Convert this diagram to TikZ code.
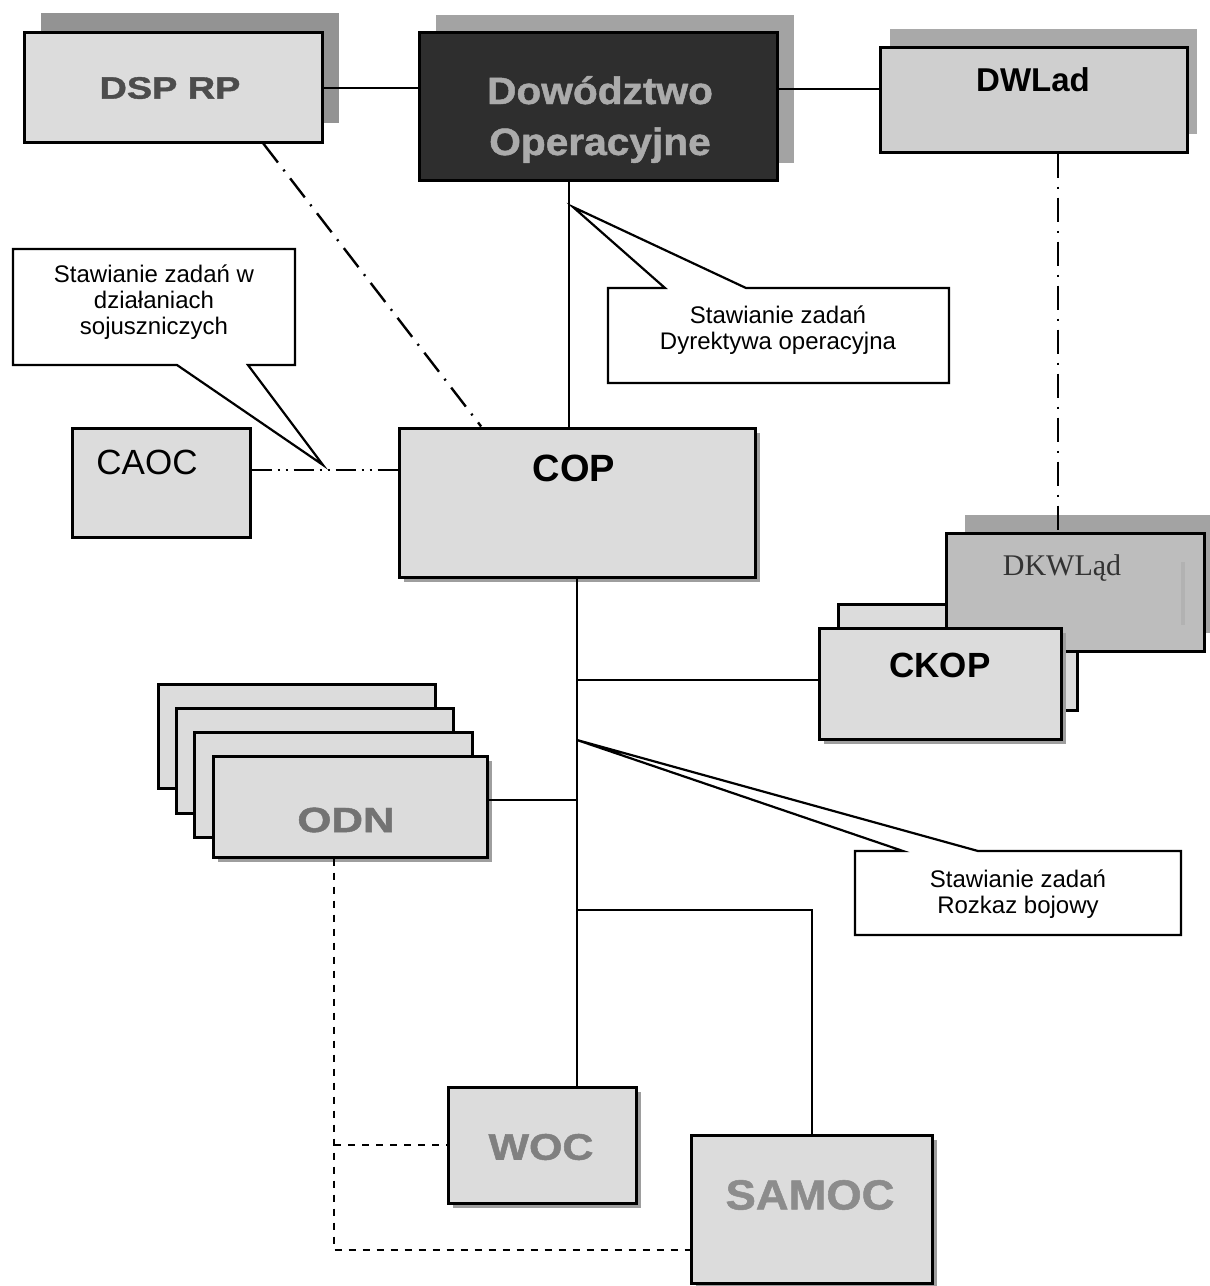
\documentclass[tikz,border=0pt]{standalone}
\usepackage{fontspec}
\usepackage{graphicx}
\setmainfont{Liberation Sans}
\newfontfamily\tnr{Liberation Serif}
\newfontfamily\blackfont[FakeBold=1.2]{Liberation Sans Bold}
\usetikzlibrary{fit,calc,shadows}
\definecolor{boxfill}{HTML}{DCDCDC}
\definecolor{boxfillB}{HTML}{CFCFCF}
\definecolor{boxfillC}{HTML}{BDBDBD}
\definecolor{dowfill}{HTML}{2E2E2E}
\definecolor{shadgray}{HTML}{939393}
\definecolor{thinshad}{HTML}{9E9E9E}
\newcommand\fsz[1]{\fontsize{#1}{#1}\selectfont}
\newcommand\ctfont{\fontsize{12}{13}\selectfont}
\begin{document}
\begin{tikzpicture}[x=0.5pt,y=-0.5pt,
  lbox/.style={draw=black, line width=1.5pt, fill=boxfill, inner sep=0pt},
  bigshad/.style={general shadow={fill=shadgray, shadow xshift=8.5pt, shadow yshift=9.5pt}},
  smallshad/.style={general shadow={fill=thinshad, shadow xshift=2.5pt, shadow yshift=-2.5pt}},
  conn/.style={line width=1pt, draw=black},
  dashdot/.style={line width=1.2pt, dash pattern=on 12pt off 4.5pt on 1pt off 4.5pt},
  dashdotdot/.style={line width=1.1pt, dash pattern=on 10pt off 3pt on 1pt off 3pt on 1pt off 3pt},
  dsh/.style={line width=1pt, dash pattern=on 3.5pt off 3.5pt},
  callout/.style={draw=black, line width=1.1pt, fill=white, line join=miter},
  ctext/.style={align=center, font=\ctfont, inner sep=0pt},
  heavy/.style={inner sep=0pt, font=\bfseries},
  black/.style={inner sep=0pt, font=\blackfont}
]
\useasboundingbox (0,0) rectangle (1210,1286);

% ---------- top row ----------
\node[lbox, bigshad, fit={(24,32)(322,142)}] (dsp) {};
\node[black, text=black!70] (dsptxt) at (170,88) {\fsz{15.5}\scalebox{1.22}[1]{DSP RP}};

\node[lbox, fill=dowfill, general shadow={fill=shadgray!85, shadow xshift=8.5pt, shadow yshift=8.5pt}, fit={(419,32)(777,180)}] (dow) {};
\node[black, text=black!33, anchor=base] (dowtxt1) at (600,104) {\fsz{19}\scalebox{1.07}[1]{Dowództwo}};
\node[black, text=black!33, anchor=base] (dowtxt2) at (600,155) {\fsz{19}\scalebox{1.07}[1]{Operacyjne}};

\node[lbox, fill=boxfillB, general shadow={fill=shadgray!80, shadow xshift=5pt, shadow yshift=9pt}, fit={(880,47)(1187,152)}] (dwl) {};
\node[heavy] (dwltxt) at (1033,80) {\fsz{16.5}DWLad};

% ---------- middle ----------
\node[lbox, fit={(72,428)(250,537)}] (caoc) {};
\node[inner sep=0pt] (caoctxt) at (147,462) {\fsz{17.5}CAOC};

\node[lbox, smallshad, fit={(399,428)(755,577)}] (cop) {};
\node[heavy] (coptxt) at (574,468) {\fsz{19}COP};

% CKOP / DKWLad cluster
\node[lbox, fit={(838,604)(1077,710)}] (ckopb) {};
\node[lbox, fill=boxfillC, general shadow={fill=shadgray!85, shadow xshift=9.5pt, shadow yshift=9pt}, fit={(946,533)(1204,651)}] (dkw) {};
\draw[black!30, line width=2pt] (1183,562) -- (1183,625);
\node[inner sep=0pt, text=black!80] (dkwtxt) at (1062,568) {\tnr\fsz{15}DKWLąd};
\node[lbox, smallshad, fit={(819,628)(1061,739)}] (ckop) {};
\node[heavy] (ckoptxt) at (940,665) {\fsz{17.5}CKOP};

% ODN stack
\node[lbox, fit={(158,684)(435,788)}] (odn1) {};
\node[lbox, fit={(176,708)(453,813)}] (odn2) {};
\node[lbox, fit={(194,732)(472,837)}] (odn3) {};
\node[lbox, smallshad, fit={(213,756)(487,857)}] (odn) {};
\node[black, text=black!55] (odntxt) at (346,820) {\fsz{17.5}\scalebox{1.25}[1]{ODN}};

% bottom
\node[lbox, smallshad, fit={(448,1087)(636,1203)}] (woc) {};
\node[black, text=black!50] (woctxt) at (541,1147) {\fsz{18.5}\scalebox{1.16}[1]{WOC}};
\node[lbox, smallshad, fit={(691,1135)(932,1283)}] (samoc) {};
\node[black, text=black!45] (samoctxt) at (810,1195) {\fsz{21}\scalebox{1.08}[1]{SAMOC}};

% ---------- connectors ----------
\draw[conn] (dsp.east |- 0,88) -- (dow.west |- 0,88);
\draw[conn] (dow.east |- 0,89) -- (dwl.west |- 0,89);
\draw[conn] (dow.south -| 569,0) -- (cop.north -| 569,0);
\draw[dashdot] ($(dsp.south west)!0.80!(dsp.south east)$) -- ($(cop.north west)!0.233!(cop.north east)$);
\draw[dashdot] (dwl.south -| 1058,0) -- (dkw.north -| 1058,0);
\draw[dashdotdot] (caoc.east |- 0,470) -- (cop.west |- 0,470);

\coordinate (tr) at (577,0);
\draw[conn] (cop.south -| tr) -- (woc.north -| tr);
\draw[conn] (tr |- 0,680) -- (ckop.west |- 0,680);
\draw[conn] (odn.east |- 0,800) -- (tr |- 0,800);
\draw[conn] (tr |- 0,910) -| (samoc.north);

\coordinate (dx) at (334,0);
\draw[dsh] (odn.south -| dx) -- (dx |- 0,1250) -- (samoc.west |- 0,1250);
\draw[dsh] (dx |- 0,1145) -- (woc.west |- 0,1145);

% ---------- callouts ----------
\draw[callout] (13,249) -- (295,249) -- (295,365) -- (248,365) -- (323,465) -- (177,365) -- (13,365) -- cycle;
\node[ctext] (c1) at (154,302) {Stawianie zadań w\\działaniach\\sojuszniczych};

\draw[callout] (608,288) -- (665,288) -- (573,207) -- (746,288) -- (949,288) -- (949,383) -- (608,383) -- cycle;
\node[ctext] (c2) at (778,330) {Stawianie zadań\\Dyrektywa operacyjna};

\draw[callout] (855,851) -- (903,851) -- (577,740) -- (978,851) -- (1181,851) -- (1181,935) -- (855,935) -- cycle;
\node[ctext] (c3) at (1018,894) {Stawianie zadań\\Rozkaz bojowy};
\end{tikzpicture}
\end{document}
